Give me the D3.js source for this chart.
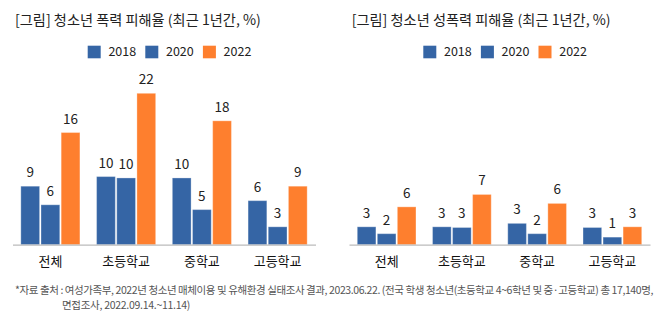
<!DOCTYPE html>
<html>
<head>
<meta charset="utf-8">
<script src="https://cdn.jsdelivr.net/npm/d3@7"></script>
<style>
  body { margin: 0; background: #fff; }
  svg { display: block; font-family: "Noto Sans CJK KR", "Noto Sans", sans-serif; }
</style>
</head>
<body>
<div class="data"></div>
<script>
const categories = ["전체", "초등학교", "중학교", "고등학교"]
const years = ["2018", "2020", "2022"]

// 폭력 피해율 (%)
const violence2018 = [8.5, 9.9, 9.7, 6.4]
const violence2020 = [5.8, 9.7, 5.1, 2.6]
const violence2022 = [16.3, 22.0, 18.0, 8.5]

// 성폭력 피해율 (%)
const sexual2018 = [2.6, 2.6, 3.1, 2.5]
const sexual2020 = [1.6, 2.5, 1.6, 1.1]
const sexual2022 = [5.5, 7.3, 6.0, 2.6]

const titles = ["[그림] 청소년 폭력 피해율 (최근 1년간, %)", "[그림] 청소년 성폭력 피해율 (최근 1년간, %)"]
const note1 = "*자료 출처 : 여성가족부, 2022년 청소년 매체이용 및 유해환경 실태조사 결과, 2023.06.22. (전국 학생 청소년(초등학교 4~6학년 및 중·고등학교) 총 17,140명,"
const note2 = "면접조사, 2022.09.14.~11.14)"

const W = 667, H = 321
const baseline = 244.7

const color = d3.scaleOrdinal()
    .domain(years)
    .range(["#3565a5", "#3565a5", "#fe7f2e"])

const y = d3.scaleLinear()
    .domain([0, 22])
    .range([baseline, baseline - 151.4])

const svg = d3.select(".data").append("svg")
    .attr("width", W)
    .attr("height", H)

function drawChart(opt) {
    const rows = categories.map(function(c, i) {
        return {category: c, values: years.map(function(yr, j) {
            return {year: yr, value: opt.series[j][i]}
        })}
    })

    const x0 = d3.scaleBand()
        .domain(categories)
        .range([opt.left, opt.right])
        .paddingInner(0.22)
        .paddingOuter(0.11)

    const x1 = d3.scaleBand()
        .domain(years)
        .range([0, x0.bandwidth()])
        .paddingInner(0.07)

    const g = svg.append("g")

    g.append("text")
        .attr("x", opt.titleX)
        .attr("y", 24.5)
        .attr("font-size", 14.2)
        .attr("fill", "#222")
        .text(opt.title)

    // legend
    const legend = g.selectAll(".legend")
        .data(years)
      .enter().append("g")
        .attr("class", "legend")
        .attr("transform", function(d, i) { return "translate(" + (opt.legendX + i * 57.6) + ",45.7)" })

    legend.append("rect")
        .attr("width", 13)
        .attr("height", 12.6)
        .attr("fill", function(d) { return color(d) })

    legend.append("text")
        .attr("x", 20.7)
        .attr("y", 6.3)
        .attr("dy", ".35em")
        .attr("font-size", 12.5)
        .attr("fill", "#222")
        .text(function(d) { return d })

    const slice = g.selectAll(".slice")
        .data(rows)
      .enter().append("g")
        .attr("class", "slice")
        .attr("transform", function(d) { return "translate(" + x0(d.category) + ",0)" })

    slice.selectAll("rect")
        .data(function(d) { return d.values })
      .enter().append("rect")
        .attr("x", function(d) { return x1(d.year) })
        .attr("y", function(d) { return y(d.value) })
        .attr("width", x1.bandwidth())
        .attr("height", function(d) { return baseline - y(d.value) })
        .attr("fill", function(d) { return color(d.year) })
        .attr("stroke", "rgba(255,255,255,0.3)")
        .attr("stroke-width", 1)

    slice.selectAll(".val")
        .data(function(d) { return d.values })
      .enter().append("text")
        .attr("class", "val")
        .attr("x", function(d) { return x1(d.year) + x1.bandwidth() / 2 })
        .attr("y", function(d) { return y(d.value) - 9 })
        .attr("text-anchor", "middle")
        .attr("font-size", 13.5)
        .attr("fill", "#222")
        .text(function(d) { return Math.round(d.value) })

    const xAxis = d3.axisBottom(x0).tickSize(0).tickPadding(12)

    const ax = g.append("g")
        .attr("transform", "translate(0," + baseline + ")")
        .call(xAxis)

    ax.select(".domain").attr("stroke", "#bbb").attr("stroke-width", 1.2)
    ax.selectAll("text")
        .attr("font-size", 13)
        .attr("font-weight", 400)
        .attr("fill", "#111")
        .attr("font-family", "Noto Sans CJK KR")
}

drawChart({series: [violence2018, violence2020, violence2022], left: 12.5, right: 315.5,
    title: titles[0], titleX: 15, legendX: 87.7})
drawChart({series: [sexual2018, sexual2020, sexual2022], left: 349, right: 650,
    title: titles[1], titleX: 351.7, legendX: 423.3})

// footnote: squeeze with letter-spacing so the first line ends near x=655
function note(text, x, yPos, width) {
    const t = svg.append("text")
        .attr("x", x)
        .attr("y", yPos)
        .attr("font-size", 10.5)
        .attr("fill", "#555")
        .text(text)
    const w = t.node().getComputedTextLength()
    t.attr("letter-spacing", ((width - w) / text.length).toFixed(3) + "px")
}

note(note1, 15, 294, 638)
note(note2, 62, 309, 128)
</script>
</body>
</html>
